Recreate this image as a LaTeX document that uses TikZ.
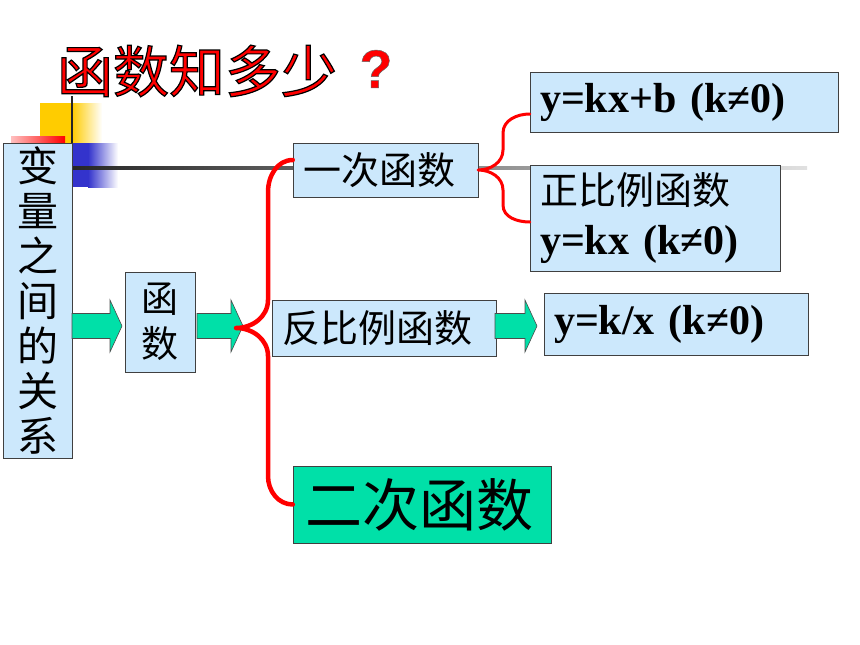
\documentclass[tikz,border=0pt]{standalone}
\usepackage{fontspec}
\setmainfont{Liberation Serif}
\newfontfamily\cjk{Noto Sans CJK SC}
\newfontfamily\qfont{Liberation Sans}
\usetikzlibrary{positioning}
\definecolor{boxblue}{RGB}{204,232,252}
\definecolor{mintgreen}{RGB}{0,224,168}
\definecolor{decoyellow}{RGB}{255,204,0}
\definecolor{decoblue}{RGB}{51,51,204}

\tikzset{
  bluebox/.style={draw=black!75, fill=boxblue, inner sep=0pt, inner xsep=10pt, align=left},
  redbrace/.style={draw=red, line width=4.5pt, line join=round, line cap=round},
  greenarrow/.style={draw=black!70, fill=mintgreen, line width=0.6pt},
}
% fat green arrow: x, y, length
\newcommand{\fatarrow}[3]{%
  \draw[greenarrow, shift={(#1,#2)}] (0,-12.5) -- (#3-12,-12.5) -- (#3-12,-26) -- (#3,0)
    -- (#3-12,26) -- (#3-12,12.5) -- (0,12.5) -- cycle;}
\newcommand{\outlined}[1]{{\special{pdf:literal direct 0 0 0 RG 1.2 w 2 Tr}#1\special{pdf:literal direct 0 Tr}}}

\begin{document}
\begin{tikzpicture}[x=1pt,y=-1pt]
\useasboundingbox (0,0) rectangle (860,645);
% corner decoration
\fill[decoyellow] (40,103) rectangle (72,143);
\shade[left color=decoyellow, right color=white] (72,103) rectangle (102,143);
\shade[left color=red!25, right color=red] (11,136) rectangle (65,143);
\fill[decoblue] (72,143) rectangle (88,187);
\shade[left color=decoblue, right color=white] (88,143) rectangle (118,187);
\draw[black!85, line width=2pt] (72,96) -- (72,190);
\shade[left color=black!85, right color=black!12] (72,166.5) rectangle (807,169.5);

% title
\node[text=red, font=\cjk\fontsize{56}{56}\selectfont] (title) at (197,71) {\outlined{函数知多少}};
\node[text=red, font=\qfont\bfseries\fontsize{54}{54}\selectfont] (qmark) at (376,69) {\special{pdf:literal direct 0.4 0.4 0.4 RG 0.5 w 2 Tr}?\special{pdf:literal direct 0 Tr}};

% boxes
\node[bluebox, align=center, text width=49pt, minimum height=315pt,
  font=\cjk\fontsize{41}{45}\selectfont] (bianliang) at (37.5,300.5) {变\\量\\之\\间\\的\\关\\系};
\node[bluebox, align=center, text width=50pt, minimum height=100pt,
  font=\cjk\fontsize{37}{45}\selectfont] (hanshu) at (160,322) {函\\数};
\node[bluebox, text width=165pt, minimum height=54pt,
  font=\cjk\fontsize{38}{43}\selectfont] (yici) at (385.5,170) {一次函数};
\node[bluebox, text width=288pt, minimum height=60pt,
  font=\bfseries\fontsize{42}{44}\selectfont] (ykxb) at (684,102) {y=kx+b (k≠0)};
\node[bluebox, text width=230pt, minimum height=106pt,
  font=\bfseries\fontsize{42}{50}\selectfont] (zhengbi) at (655,218) {{\cjk\mdseries\fontsize{38}{50}\selectfont 正比例函数}\\y=kx (k≠0)};
\node[bluebox, text width=204pt, minimum height=56pt,
  font=\cjk\fontsize{38}{43}\selectfont] (fanbi) at (384,328) {反比例函数};
\node[bluebox, text width=244pt, minimum height=62pt,
  font=\bfseries\fontsize{42}{44}\selectfont] (ykx) at (676,324) {y=k/x (k≠0)};
\node[bluebox, fill=mintgreen, text width=234pt, inner xsep=12pt, minimum height=77pt,
  font=\cjk\fontsize{57}{60}\selectfont] (erci) at (422,504.5) {二次函数};

% arrows
\fatarrow{72}{326}{50}
\fatarrow{197}{326}{46}
\fatarrow{495}{326}{42}

% braces
\coordinate (fork) at (236,328);
\draw[redbrace] ([yshift=10pt]yici.west) to[out=180,in=90] (268,192) -- (268,300)
  to[out=270,in=0] (fork) to[out=0,in=90] (268,356) -- (268,476) to[out=270,in=180] (erci.west);
\draw[redbrace, line width=3pt] ([yshift=-12pt]ykxb.west) to[out=180,in=90] (503,133) -- (503,150)
  to[out=270,in=0] (yici.east) to[out=0,in=90] (503,190) -- (503,205) to[out=270,in=180] ([yshift=-4pt]zhengbi.west);
\end{tikzpicture}
\end{document}
